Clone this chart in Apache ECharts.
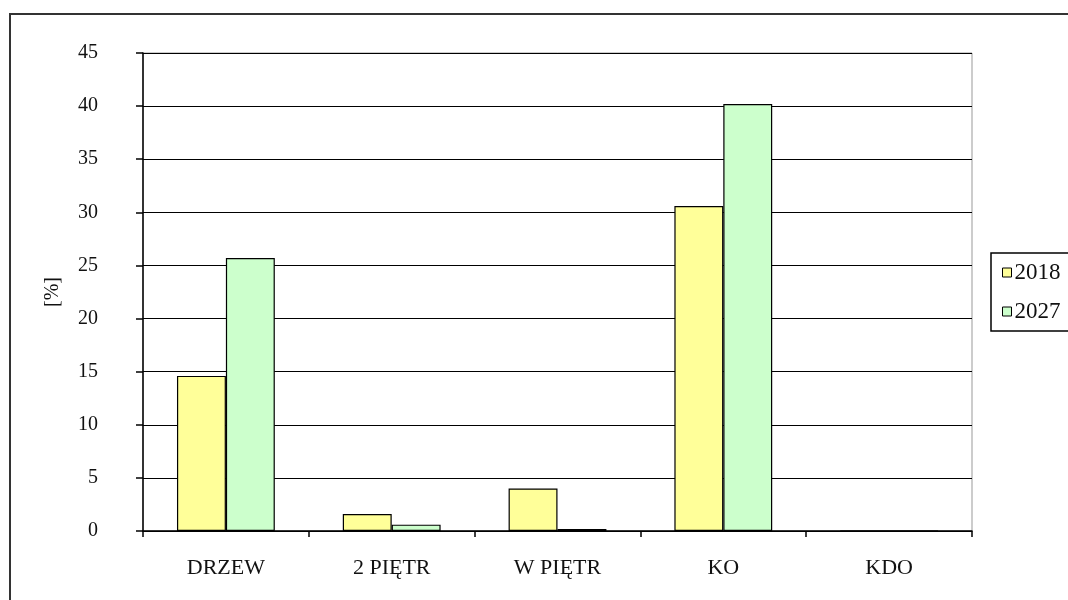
<!DOCTYPE html>
<html>
<head>
<meta charset="utf-8">
<script src="https://cdn.jsdelivr.net/npm/echarts@6/dist/echarts.min.js"></script>
<style>
  html, body { margin: 0; padding: 0; background: #fff; }
  #chart { width: 1068px; height: 600px; }
</style>
</head>
<body>
<div id="chart"></div>
<script>
// Categories and series values (%)
const categories = ['DRZEW', '2 PIĘTR', 'W PIĘTR', 'KO', 'KDO'];
const seriesNames = ['2018', '2027'];
const values2018 = [14.6, 1.6, 4.0, 30.6, 0];
const values2027 = [25.7, 0.6, 0.2, 40.2, 0];
const yTicks = [0, 5, 10, 15, 20, 25, 30, 35, 40, 45];

const font = '"Liberation Serif", "Times New Roman", serif';
const chart = echarts.init(document.getElementById('chart'), null, { renderer: 'canvas' });

chart.setOption({
  animation: false,
  backgroundColor: '#ffffff',
  textStyle: { fontFamily: font, color: '#000' },
  graphic: [{
    type: 'rect',
    shape: { x: 10, y: 14, width: 1120, height: 700 },
    style: { fill: 'none', stroke: '#333', lineWidth: 2 },
    silent: true,
    z: -1
  }],
  grid: {
    left: 143, right: 96, top: 53, bottom: 69,
    show: true, borderColor: '#999', borderWidth: 1, backgroundColor: 'transparent'
  },
  legend: {
    data: seriesNames,
    orient: 'vertical',
    left: 991, top: 253,
    padding: [8, 20, 8, 11],
    icon: 'rect',
    itemWidth: 9, itemHeight: 9, itemGap: 16,
    borderColor: '#000', borderWidth: 1.5,
    textStyle: { fontFamily: font, fontSize: 23, color: '#111', padding: [0, 0, 0, -2] },
    itemStyle: { borderColor: '#000', borderWidth: 1 }
  },
  xAxis: {
    type: 'category',
    data: categories,
    axisLine: { lineStyle: { color: '#000', width: 1.5 } },
    axisTick: { show: true, length: 6, inside: false, lineStyle: { color: '#000', width: 1.5 } },
    axisLabel: { fontFamily: font, fontSize: 22, color: '#111', margin: 26 }
  },
  yAxis: {
    type: 'value',
    min: yTicks[0], max: yTicks[yTicks.length - 1], interval: 5,
    name: '[%]', nameLocation: 'middle', nameGap: 80, nameRotate: 90,
    nameTextStyle: { fontFamily: font, fontSize: 20, color: '#111' },
    axisLine: { show: true, lineStyle: { color: '#000', width: 1.5 } },
    axisTick: { show: true, length: 7, lineStyle: { color: '#000', width: 1.5 } },
    axisLabel: { fontFamily: font, fontSize: 20, color: '#111', margin: 45 },
    splitLine: { show: true, lineStyle: { color: '#000', width: 1.2 } }
  },
  series: [
    {
      name: seriesNames[0], type: 'bar', data: values2018,
      barGap: '0%', barCategoryGap: '41%',
      itemStyle: { color: '#FFFF99', borderColor: '#000', borderWidth: 1.2 }
    },
    {
      name: seriesNames[1], type: 'bar', data: values2027,
      itemStyle: { color: '#CCFFCC', borderColor: '#000', borderWidth: 1.2 }
    }
  ]
});
</script>
</body>
</html>
